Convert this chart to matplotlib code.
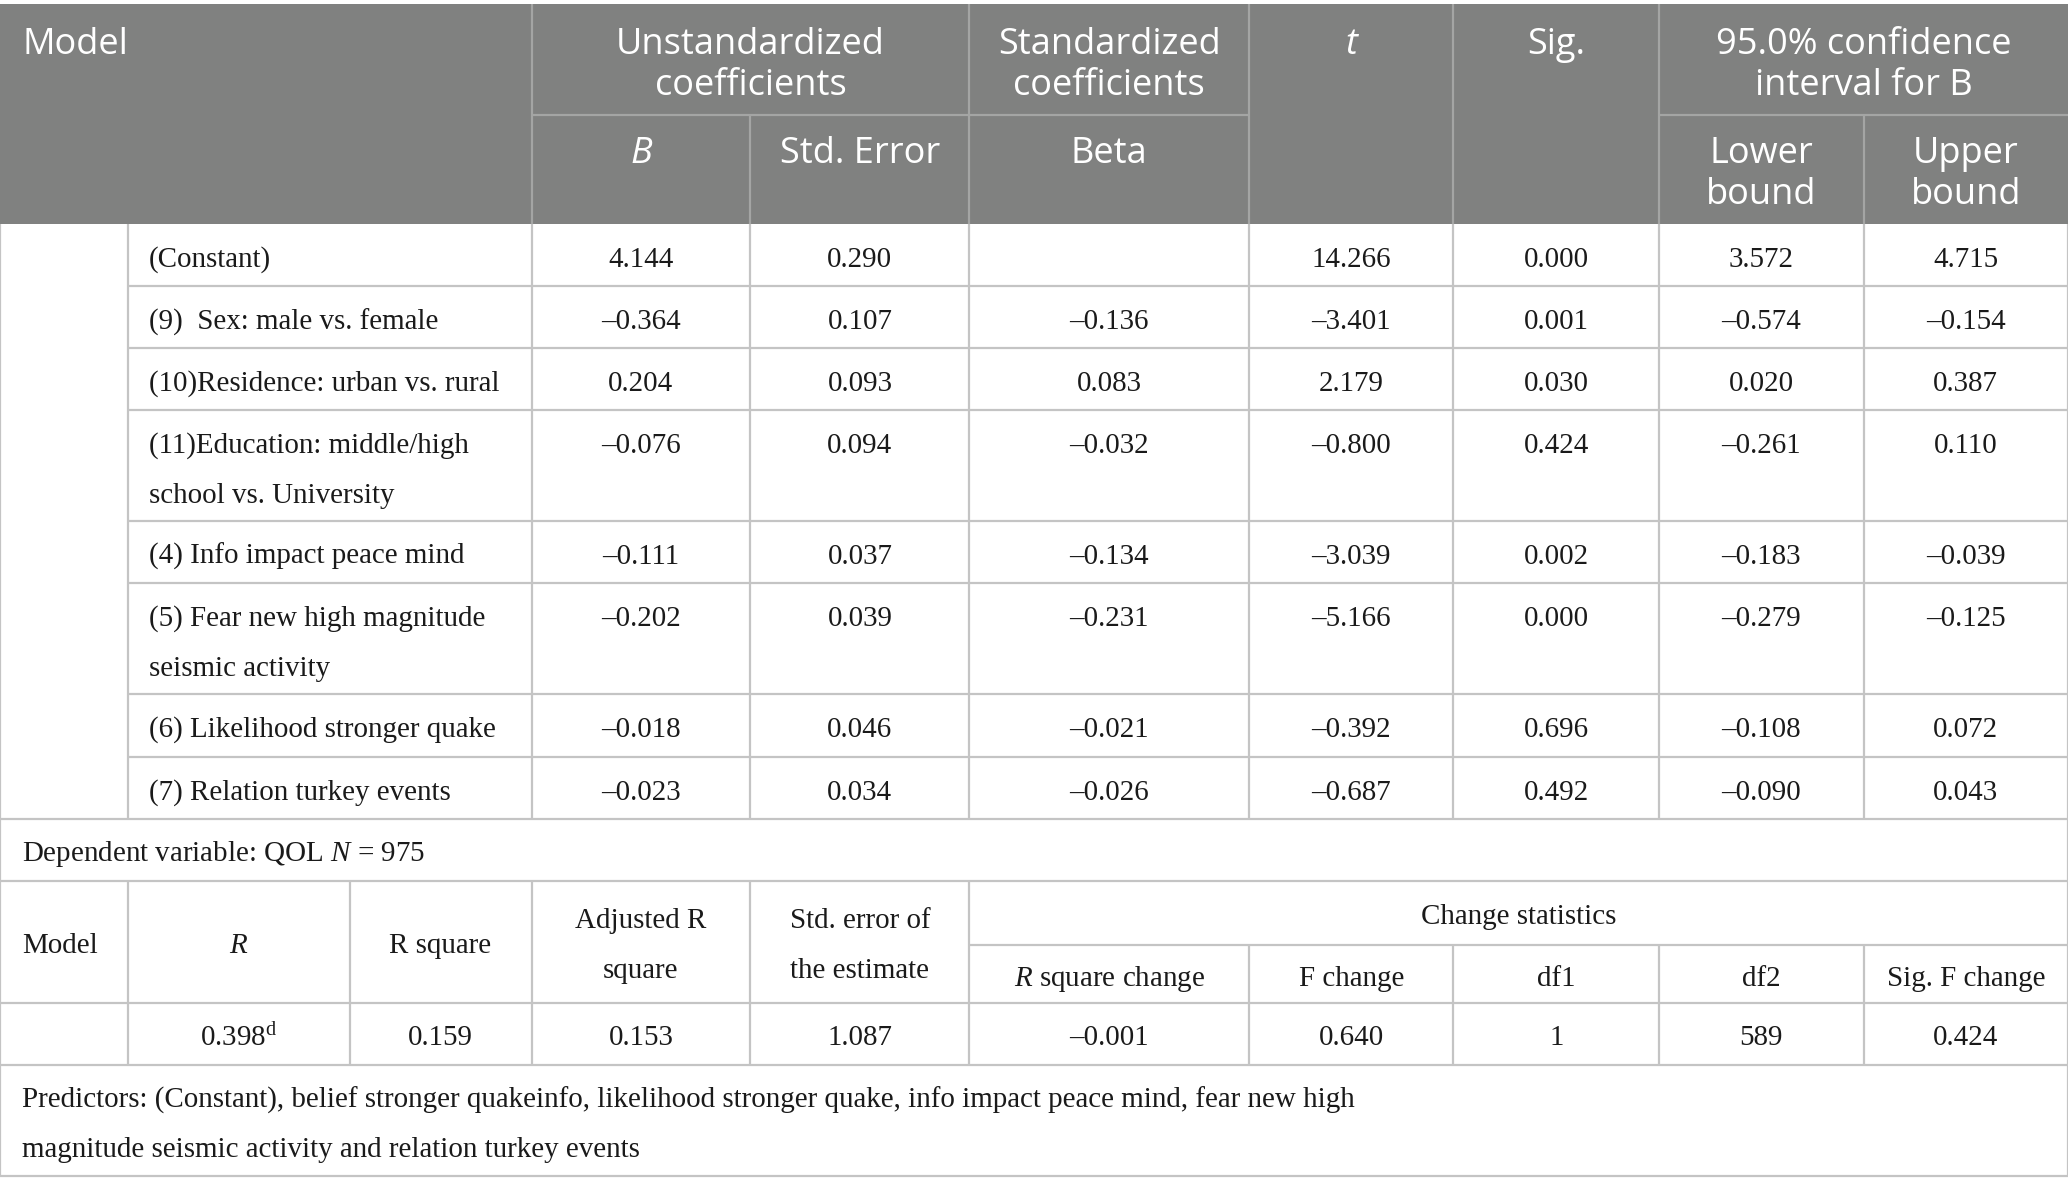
import matplotlib
matplotlib.use('Agg')
import matplotlib.pyplot as plt
from matplotlib.patches import Rectangle

plt.rcParams['mathtext.fontset'] = 'custom'
plt.rcParams['mathtext.rm'] = 'Liberation Serif'
plt.rcParams['mathtext.it'] = 'Liberation Serif:italic'

# --- table contents ---
predictors = ['(Constant)',
              '(9)  Sex: male vs. female',
              '(10)Residence: urban vs. rural',
              '(11)Education: middle/high\nschool vs. University',
              '(4) Info impact peace mind',
              '(5) Fear new high magnitude\nseismic activity',
              '(6) Likelihood stronger quake',
              '(7) Relation turkey events']
coef_b = ['4.144', '–0.364', '0.204', '–0.076', '–0.111', '–0.202', '–0.018', '–0.023']
std_err = ['0.290', '0.107', '0.093', '0.094', '0.037', '0.039', '0.046', '0.034']
beta = ['', '–0.136', '0.083', '–0.032', '–0.134', '–0.231', '–0.021', '–0.026']
t_val = ['14.266', '–3.401', '2.179', '–0.800', '–3.039', '–5.166', '–0.392', '–0.687']
sig = ['0.000', '0.001', '0.030', '0.424', '0.002', '0.000', '0.696', '0.492']
ci_low = ['3.572', '–0.574', '0.020', '–0.261', '–0.183', '–0.279', '–0.108', '–0.090']
ci_up = ['4.715', '–0.154', '0.387', '0.110', '–0.039', '–0.125', '0.072', '0.043']

summary_head = ['Model', '$R$', 'R square', 'Adjusted R\nsquare', 'Std. error of\nthe estimate']
change_head = ['$R$ square change', 'F change', 'df1', 'df2', 'Sig. F change']
summary_vals = ['', '0.398$^{\\mathrm{d}}$', '0.159', '0.153', '1.087',
                '–0.001', '0.640', '1', '589', '0.424']

dep_note = 'Dependent variable: QOL $N$ = 975'
pred_note = ['Predictors: (Constant), belief stronger quakeinfo, likelihood stronger quake, info impact peace mind, fear new high',
             'magnitude seismic activity and relation turkey events']

# --- layout (units of a 1568 x 905 canvas) ---
W, H = 1568, 905
cols = [0, 97, 403, 569, 735, 947, 1102, 1258, 1413, 1568]
cols2 = [0, 97, 265, 403, 569, 735, 947, 1102, 1258, 1413, 1568]
rows = [170, 217, 264, 311, 395, 442, 526, 574, 621]
HEAD_TOP, HEAD_MID = 3, 87
DEP_BOT = 668
LH_MID, LH_BOT = 716, 760
VAL_BOT = 807
PRED_BOT = 891

HEAD_BG = '#808180'
HEAD_LN = '#a4a5a4'
GRID = '#c4c4c4'
TXT = '#1a1a1a'
SANS = 'Open Sans'
SERIF = 'Liberation Serif'
FS_H = 26
FS_B = 20.9

fig = plt.figure(figsize=(20.68, 11.94), dpi=100)
ax = fig.add_axes([0, 0, 1, 1])
ax.set_xlim(0, W)
ax.set_ylim(H, 0)
ax.axis('off')


def hline(x0, x1, y, c=GRID, lw=1.6):
    ax.plot([x0, x1], [y, y], color=c, lw=lw, solid_capstyle='butt')


def vline(x, y0, y1, c=GRID, lw=1.6):
    ax.plot([x, x], [y0, y1], color=c, lw=lw, solid_capstyle='butt')


def htext(x, y, s, ha='center', italic=False):
    for i, part in enumerate(s.split('\n')):
        ax.text(x, y + 3 + i * 31, part, ha=ha, va='center', color='white',
                fontsize=FS_H, family=SANS, style='italic' if italic else 'normal')


def btext(x, y, s, ha='center'):
    for i, part in enumerate(s.split('\n')):
        ax.text(x, y + 3 + i * 38, part, ha=ha, va='center', color=TXT,
                fontsize=FS_B, family=SERIF)


# header block
ax.add_patch(Rectangle((0, HEAD_TOP), W, rows[0] - HEAD_TOP, color=HEAD_BG, lw=0))
hline(403, 947, HEAD_MID, HEAD_LN)
hline(1258, 1568, HEAD_MID, HEAD_LN)
for x in [403, 735, 947, 1102, 1258]:
    vline(x, HEAD_TOP, rows[0], HEAD_LN)
for x in [569, 1413]:
    vline(x, HEAD_MID, rows[0], HEAD_LN)

htext(17, 31, 'Model', ha='left')
htext((403 + 735) / 2, 31, 'Unstandardized\ncoefficients')
htext((735 + 947) / 2, 31, 'Standardized\ncoefficients')
htext((947 + 1102) / 2, 31, 't', italic=True)
htext((1102 + 1258) / 2, 31, 'Sig.')
htext((1258 + 1568) / 2, 31, '95.0% confidence\ninterval for B')
htext((403 + 569) / 2, 114, 'B', italic=True)
htext((569 + 735) / 2, 114, 'Std. Error')
htext((735 + 947) / 2, 114, 'Beta')
htext((1258 + 1413) / 2, 114, 'Lower\nbound')
htext((1413 + 1568) / 2, 114, 'Upper\nbound')

# coefficient rows
for r in range(1, len(rows) - 1):
    hline(97, W, rows[r])
for x in cols[1:-1]:
    vline(x, rows[0], rows[-1])
vline(0, rows[0], PRED_BOT)
vline(W, rows[0], PRED_BOT)

columns = [coef_b, std_err, beta, t_val, sig, ci_low, ci_up]
for i, name in enumerate(predictors):
    y = rows[i] + 24
    btext(113, y, name, ha='left')
    for j, col in enumerate(columns):
        btext((cols[j + 2] + cols[j + 3]) / 2, y, col[i])

# dependent variable note
hline(0, W, rows[-1])
btext(17, (rows[-1] + DEP_BOT) / 2, dep_note, ha='left')
hline(0, W, DEP_BOT)

# model summary block
for x in cols2[1:6]:
    vline(x, DEP_BOT, VAL_BOT)
hline(735, W, LH_MID)
for x in cols2[6:-1]:
    vline(x, LH_MID, VAL_BOT)
hline(0, W, LH_BOT)
hline(0, W, VAL_BOT)

mid_h = (DEP_BOT + LH_BOT) / 2
btext(17, mid_h, summary_head[0], ha='left')
for j in range(1, 3):
    btext((cols2[j] + cols2[j + 1]) / 2, mid_h, summary_head[j])
for j in range(3, 5):
    btext((cols2[j] + cols2[j + 1]) / 2, 695, summary_head[j])
btext((735 + W) / 2, (DEP_BOT + LH_MID) / 2, 'Change statistics')
for j, s in enumerate(change_head):
    btext((cols2[j + 5] + cols2[j + 6]) / 2, (LH_MID + LH_BOT) / 2 + 1, s)
for j, s in enumerate(summary_vals):
    if s:
        btext((cols2[j] + cols2[j + 1]) / 2, (LH_BOT + VAL_BOT) / 2, s)

# predictors note
btext(17, 831, pred_note[0] + '\n' + pred_note[1], ha='left')
hline(0, W, PRED_BOT)

fig.savefig('out.png', dpi=100, facecolor='white')
